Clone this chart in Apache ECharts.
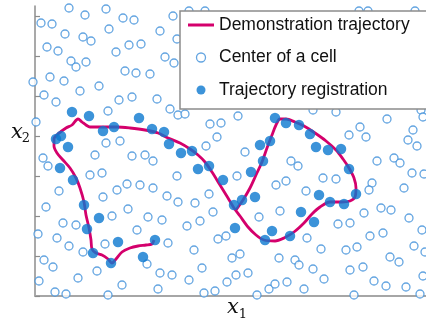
<!DOCTYPE html>
<html>
<head>
<meta charset="utf-8">
<script src="https://cdn.jsdelivr.net/npm/echarts@6.0.0/dist/echarts.min.js"></script>
<style>
  html, body { margin: 0; padding: 0; background: #fff; }
  #myChart { width: 426px; height: 322px; }
</style>
</head>
<body>
<div id="myChart"></div>
<script>
// centers of the cells (hollow circles), [x1, x2]
var cellCenters = [
  [34,288],[71,287],[50,281],[88,278],[99,276],[138,280],[154,285],[170,285],[324,285],[333,285],[380,285],
  [6,273],[17,272],[30,262],[74,267],[125,265],[48,259],[56,255],[12,249],[23,245],[94,251],[106,252],[81,244],[130,239],[142,257],
  [139,233],[36,235],[41,229],[51,234],[90,225],[101,223],[115,222],[15,219],[29,215],[64,210],[45,205],[-2,214],[9,201],[21,194],[84,196],[97,199],[122,197],
  [135,187],[143,181],[150,182],[73,185],[1,174],[71,153],[85,155],[60,141],[97,140],[110,141],[118,135],[8,138],[171,150],[175,172],[186,173],[203,180],[182,159],[210,144],
  [278,186],[301,184],[325,169],[331,159],[314,161],[352,177],[378,166],[373,156],[386,186],[388,179],[382,150],
  [13,130],[55,121],[67,123],[142,120],[24,105],[82,106],[92,112],[105,111],[118,108],[68,99],[132,100],[143,94],[160,93],[174,102],
  [202,120],[241,111],[251,115],[271,105],[256,135],[263,130],[288,118],[301,117],[342,135],[359,138],[365,133],[377,123],[389,122],[337,113],[334,106],[369,108],
  [11,89],[93,87],[77,80],[113,79],[127,76],[28,73],[41,71],[3,62],[102,66],[152,70],[165,75],[178,84],[22,58],
  [245,85],[224,79],[329,83],[346,88],[356,86],[374,78],[303,72],[315,73],[387,66],[183,57],[191,60],[272,58],[335,60],[348,63],
  [34,50],[48,44],[70,52],[133,53],[159,46],[9,36],[18,29],[62,25],[112,32],[125,23],[137,21],[167,28],[154,16],[4,15],[43,18],[87,11],[123,7],[20,4],[31,2],[73,1],[169,3],[180,5],[192,14],
  [197,38],[205,42],[244,38],[260,36],[264,31],[278,27],[201,21],[213,23],[289,17],[234,7],[240,12],[252,14],[269,7],[222,1],
  [286,47],[311,46],[322,49],[379,50],[390,44],[355,39],[364,34],[315,26],[328,29],[388,20],[339,15],[351,10],[371,9],[319,1],[385,2]
];

// demonstration trajectory
var trajectory = [
  [119,56],[117,52],[111,51],[103,50],[95,48],[87,44],[81,37],[77,33],[73,37],[67,41],[61,43],[57,47],[56,56],[54,68],[51,81],[49,94],[45,108],[41,118],[35,128],[28,136],[22,143],[19,150],[19,157],[23,162],[31,168],[37,171],[43,177],[47,174],[51,171],[55,169],[70,169],[82,169],[95,168],[110,166],[123,163],[133,158],[145,153],[155,147],[163,141],[170,134],[177,124],[185,111],[193,98],[199,88],[205,80],[213,69],[221,61],[229,56],[240,55],[249,58],[259,64],[269,73],[277,82],[285,89],[295,94],[307,94],[315,95],[320,99],[321,108],[319,118],[314,128],[308,137],[301,146],[291,155],[280,163],[269,170],[260,174],[251,177],[245,177],[241,171],[237,161],[232,148],[227,134],[221,121],[215,108],[208,96],[201,86]
];

// trajectory registration (filled circles)
var registration = [
  [37,184],[54,180],[104,178],[68,165],[79,169],[117,167],[129,164],[134,152],[146,143],[157,145],[26,160],[21,157],[33,149],
  [25,128],[38,116],[49,91],[64,78],[52,67],[83,54],[58,43],[76,33],[108,39],[120,56],[163,127],[174,130],[188,116],
  [240,178],[251,173],[264,171],[275,162],[225,151],[235,155],[228,135],[281,149],[293,146],[306,147],[216,124],
  [199,91],[207,96],[220,99],[200,68],[230,56],[237,65],[255,60],[266,84],[279,74],[284,101],[295,94],[309,92],[321,102],[314,127]
];

var yTicks = [0, 40, 80, 120, 160, 200, 240, 280];

var blue = '#0b78d0';
var lightBlue = '#3d8fd9';
var magenta = '#d4006c';

var myChart = echarts.init(document.getElementById('myChart'));
myChart.setOption({
  animation: false,
  grid: { left: 35, right: 0, top: 6, bottom: 26 },
  xAxis: {
    type: 'value', min: 0, max: 391,
    axisLine: { show: true, lineStyle: { color: '#a6a6a6', width: 2 } },
    axisTick: { show: false },
    axisLabel: { show: false },
    splitLine: { show: false }
  },
  yAxis: {
    type: 'value', min: 0, max: 290, interval: 40,
    axisLine: { show: true, lineStyle: { color: '#8c8c8c', width: 1.5 } },
    axisTick: { show: true, inside: true, length: 5, customValues: yTicks, lineStyle: { color: '#8c8c8c', width: 1.2 } },
    axisLabel: { show: false },
    splitLine: { show: false }
  },
  legend: {
    orient: 'vertical',
    left: 180, top: 11,
    padding: [5, 40, 10, 8],
    itemGap: 14.5,
    itemWidth: 26, itemHeight: 9,
    backgroundColor: '#fff',
    borderColor: '#8c8c8c', borderWidth: 1.5,
    textStyle: { fontFamily: 'Liberation Sans', fontSize: 17.5, color: '#111', lineHeight: 18 },
    data: [
      { name: 'Demonstration trajectory', icon: 'path://M0,0L26,0L26,3L0,3Z', itemStyle: { color: magenta, borderWidth: 0 } },
      { name: 'Center of a cell', itemStyle: { borderWidth: 1.3 } },
      { name: 'Trajectory registration' }
    ]
  },
  graphic: [
    { type: 'text', x: 17, y: 133, style: { text: 'x', fontFamily: 'DejaVu Serif', fontStyle: 'italic', fontSize: 21, fill: '#111', align: 'center', verticalAlign: 'middle' } },
    { type: 'text', x: 26, y: 139, style: { text: '2', fontFamily: 'DejaVu Serif', fontSize: 13, fill: '#111', align: 'center', verticalAlign: 'middle' } },
    { type: 'text', x: 233, y: 308, style: { text: 'x', fontFamily: 'DejaVu Serif', fontStyle: 'italic', fontSize: 21, fill: '#111', align: 'center', verticalAlign: 'middle' } },
    { type: 'text', x: 243, y: 315, style: { text: '1', fontFamily: 'DejaVu Serif', fontSize: 13, fill: '#111', align: 'center', verticalAlign: 'middle' } }
  ],
  series: [
    {
      name: 'Demonstration trajectory',
      type: 'line',
      data: trajectory,
      symbol: 'none',
      smooth: 0.3,
      clip: false,
      z: 3,
      lineStyle: { color: magenta, width: 2.8 },
      itemStyle: { color: magenta }
    },
    {
      name: 'Center of a cell',
      type: 'scatter',
      data: cellCenters,
      symbol: 'circle',
      symbolSize: 8,
      clip: false,
      z: 2,
      itemStyle: { color: '#fff', borderColor: lightBlue, borderWidth: 1.3 }
    },
    {
      name: 'Trajectory registration',
      type: 'scatter',
      data: registration,
      symbol: 'circle',
      symbolSize: 10.5,
      clip: false,
      z: 4,
      itemStyle: { color: blue }
    }
  ]
});
</script>
</body>
</html>
